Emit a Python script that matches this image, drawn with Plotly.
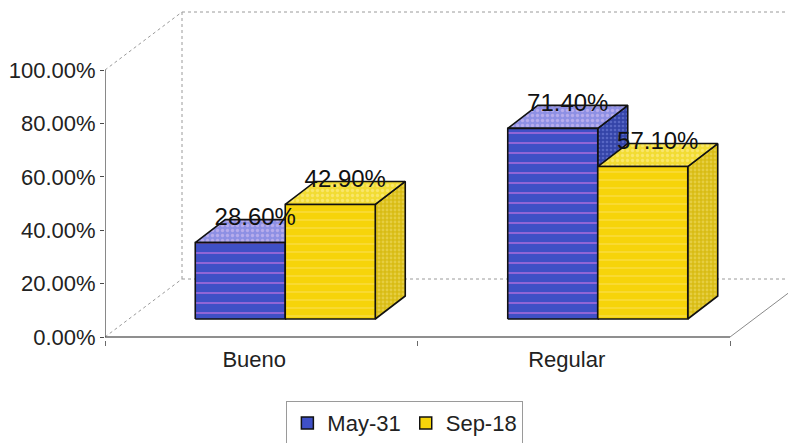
import plotly.graph_objects as go

# ---- data ----
categories = ["Bueno", "Regular"]
series_names = ["May-31", "Sep-18"]
may31 = [28.6, 71.4]
sep18 = [42.9, 57.1]
y_ticks = [0, 20, 40, 60, 80, 100]
y_tick_labels = ["0.00%", "20.00%", "40.00%", "60.00%", "80.00%", "100.00%"]

# ---- 3D-look geometry (data units) ----
PX_PER_Y = 2.67          # pixels per percent
PX_PER_X = 312.5         # pixels per category
wall_dx, wall_dy = 77 / PX_PER_X, 58 / PX_PER_Y
bar_off_dx, bar_off_dy = 24 / PX_PER_X, 18 / PX_PER_Y
bar_dx, bar_dy = 30 / PX_PER_X, 23 / PX_PER_Y
bar_w = 90 / PX_PER_X
PLOT_W, PLOT_H = 699, 332
x_max = -0.5 + PLOT_W / PX_PER_X
y_min = -3 / PX_PER_Y
y_max = y_min + PLOT_H / PX_PER_Y

styles = [
    dict(front=dict(bg="#3f50c6", fg="#e27ae6", shape="-", size=10, sol=0.2),
         top=dict(bg="#8e90e4", fg="#e0c8f4", shape=".", size=5, sol=0.35),
         side=dict(bg="#3444a8", fg="#7a88e0", shape=".", size=4, sol=0.35),
         legend="#3f50c6"),
    dict(front=dict(bg="#f6d40a", fg="#fbe46a", shape="-", size=8, sol=0.2),
         top=dict(bg="#f2dc34", fg="#fff0a0", shape=".", size=5, sol=0.35),
         side=dict(bg="#d8bc14", fg="#f2e070", shape=".", size=4, sol=0.4),
         legend="#f6d40a"),
]

fig = go.Figure()

GRAY = "#9a9a9a"
def line(xs, ys, color=GRAY, dash="dot", width=1):
    fig.add_trace(go.Scatter(x=xs, y=ys, mode="lines", showlegend=False,
                             hoverinfo="skip",
                             line=dict(color=color, width=width, dash=dash)))

# back wall + floor outline
bx = -0.5 + wall_dx
line([bx, x_max + 1], [100 + wall_dy, 100 + wall_dy])
line([bx, bx], [wall_dy, 100 + wall_dy])
line([bx, x_max + 1], [wall_dy, wall_dy])
line([-0.5, bx], [100, 100 + wall_dy])
line([-0.5, bx], [0, wall_dy])
line([1.5, 1.5 + wall_dx], [0, wall_dy], color="#8a8a8a", dash="solid")
line([-0.5, 1.5], [0, 0], color="#6a6a6a", dash="solid", width=1.3)
line([-0.5, -0.5], [0, 100], color="#4a4a4a", dash="solid", width=1.3)

def poly(xs, ys, st):
    fig.add_trace(go.Scatter(
        x=xs + [xs[0]], y=ys + [ys[0]], mode="lines", fill="toself",
        fillcolor=st["bg"],
        fillpattern=dict(shape=st["shape"], fgcolor=st["fg"], bgcolor=st["bg"],
                         size=st["size"], solidity=st["sol"]),
        line=dict(color="#111111", width=1.6),
        showlegend=False, hoverinfo="skip"))

series = [may31, sep18]
label_x, label_y, label_t = [], [], []
for ci, cat in enumerate(categories):
    for si, vals in enumerate(series):
        v = vals[ci]
        st = styles[si]
        xl = ci + bar_off_dx - bar_w + si * bar_w
        b = bar_off_dy
        t = b + v
        # side, top, front
        poly([xl + bar_w, xl + bar_w + bar_dx, xl + bar_w + bar_dx, xl + bar_w],
             [b, b + bar_dy, t + bar_dy, t], st["side"])
        poly([xl, xl + bar_w, xl + bar_w + bar_dx, xl + bar_dx],
             [t, t, t + bar_dy, t + bar_dy], st["top"])
        poly([xl, xl + bar_w, xl + bar_w, xl], [b, b, t, t], st["front"])
        label_x.append(xl + bar_w / 2 + bar_dx / 2)
        label_y.append(t + bar_dy / 2 + 12 / PX_PER_Y)
        label_t.append(f"{v:.2f}%")

fig.add_trace(go.Scatter(x=label_x, y=label_y, text=label_t, mode="text",
                         textposition="middle center", showlegend=False,
                         hoverinfo="skip", cliponaxis=False,
                         textfont=dict(size=24, color="#111111",
                                       family="Liberation Sans, Arial, sans-serif")))

# legend entries
for si, name in enumerate(series_names):
    fig.add_trace(go.Scatter(x=[None], y=[None], mode="markers", name=name,
                             marker=dict(symbol="square", size=12,
                                         color=styles[si]["legend"],
                                         line=dict(color="#111111", width=1.5))))

fig.update_layout(
    width=796, height=443,
    margin=dict(l=97, r=796 - 97 - PLOT_W, t=0, b=443 - PLOT_H, autoexpand=False),
    paper_bgcolor="white", plot_bgcolor="white",
    font=dict(family="Liberation Sans, Arial, sans-serif", size=22, color="#222222"),
    showlegend=True,
    legend=dict(orientation="h", x=0.429, xanchor="center", y=-0.184, yanchor="top",
                bordercolor="#9a9a9a", borderwidth=1, bgcolor="white",
                font=dict(size=22), itemwidth=30, tracegroupgap=0),
    xaxis=dict(range=[-0.5, x_max], tickmode="array", tickvals=[0, 1],
               ticktext=categories, ticks="", showgrid=False, zeroline=False,
               showline=False, ticklabelshift=-7, ticklabelstandoff=4,
               automargin=False,
               minor=dict(tickmode="array", tickvals=[-0.5, 0.5, 1.5],
                          ticks="outside", ticklen=5, tickcolor="#6a6a6a",
                          showgrid=False),
               fixedrange=True),
    yaxis=dict(range=[y_min, y_max], tickmode="array", tickvals=y_ticks,
               ticktext=y_tick_labels, ticks="outside", ticklen=4,
               tickcolor="#4a4a4a", showgrid=False, zeroline=False,
               showline=False, fixedrange=True, automargin=False),
)

fig.write_html("out.html")
